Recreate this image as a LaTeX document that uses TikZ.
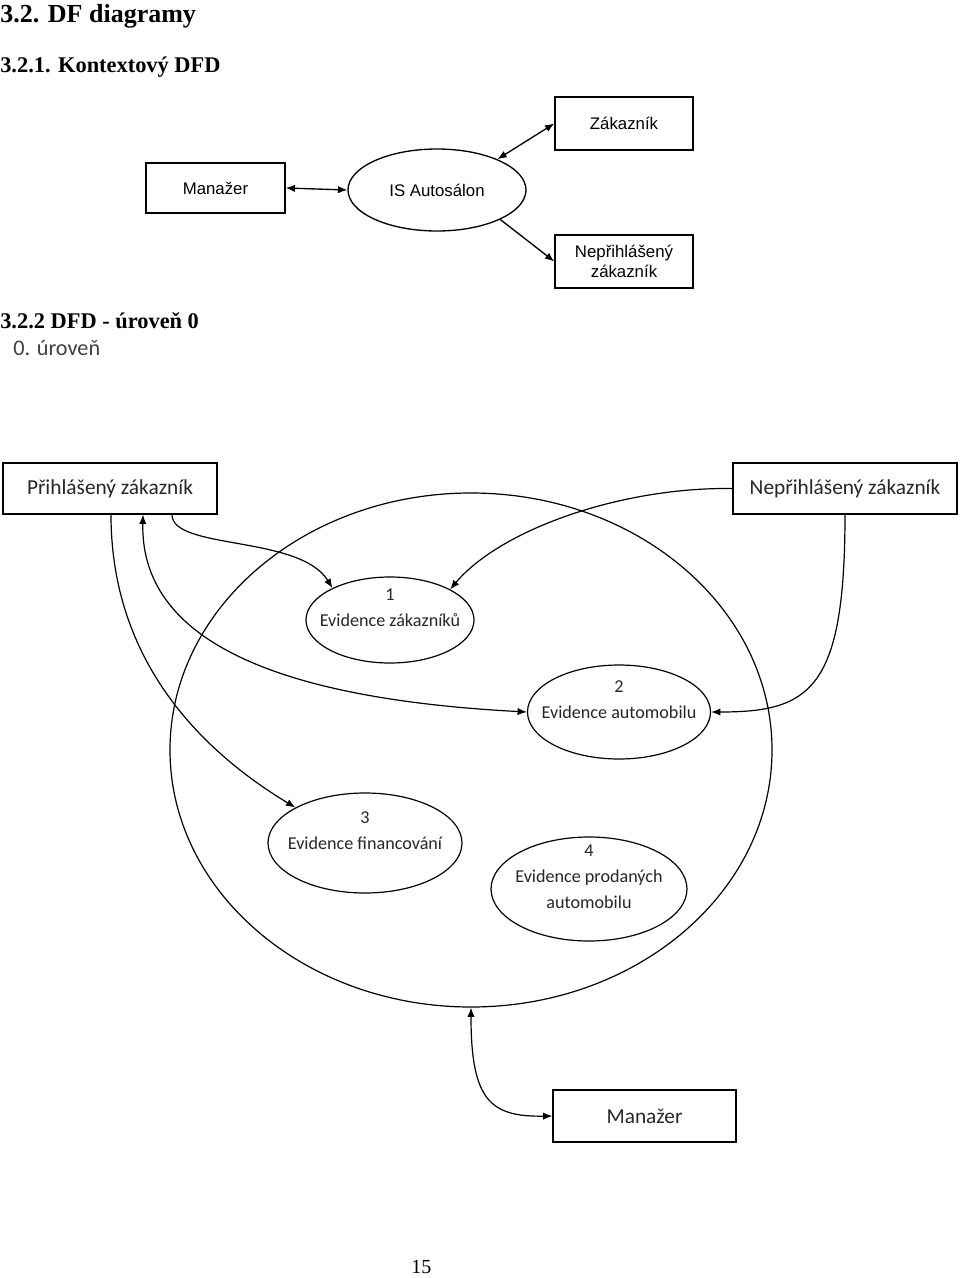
\documentclass[tikz,border=0pt]{standalone}
\usepackage{fontspec}
\setmainfont{Liberation Serif}
\newfontfamily\carlito{Carlito}
\newfontfamily\arialfont{Liberation Sans}
\usetikzlibrary{arrows.meta,shapes.geometric,calc}

\begin{document}
\begin{tikzpicture}[x=0.75pt,y=-0.75pt,
		>={Latex[length=7pt,width=5.5pt]},
		flow/.style={line width=0.9pt},
		head/.style={anchor=base west,inner sep=0pt,font=\bfseries\fontsize{16.8pt}{19pt}\selectfont},
		cbox/.style={draw,line width=1pt,inner sep=0pt,align=center,font=\arialfont\fontsize{12.6pt}{15pt}\selectfont},
		box/.style={draw,line width=0.9pt,inner sep=0pt,text=black!85,font=\carlito\fontsize{16pt}{19pt}\selectfont},
		proc/.style={draw,ellipse,line width=0.9pt,inner sep=0pt},
		ptext/.style={font=\carlito\fontsize{13.6pt}{19.5pt}\selectfont,align=center,text=black!85,yshift=9pt}]
	\useasboundingbox (0,0) rectangle (960,1278);
	% headings
	\node[head,font=\bfseries\fontsize{19.5pt}{22pt}\selectfont] (h1) at (0,22) {3.2. DF diagramy};
	\node[head] (h2) at (0,72) {3.2.1. Kontextový DFD};
	\node[head] (h3) at (0,328) {3.2.2 DFD - úroveň 0};
	\node[anchor=base west,inner sep=0pt,text=black!75,font=\carlito\fontsize{16.7pt}{19pt}\selectfont] (lvl) at (13,355) {0. úroveň};
	\node[anchor=base west,inner sep=0pt,font=\fontsize{15pt}{17pt}\selectfont] (pg) at (411,1273) {15};

	% kontextovy diagram
	\node[cbox,minimum width=104.25pt,minimum height=37.5pt] (cman) at (215.5,188) {Manažer};
	\node[cbox,ellipse,minimum width=133.5pt,minimum height=61.5pt] (isa) at (437,190) {IS Autosálon};
	\node[cbox,minimum width=103.5pt,minimum height=39.75pt] (czak) at (624,123.5) {Zákazník};
	\node[cbox,minimum width=103.5pt,minimum height=39.75pt] (cnep) at (624,261.5) {Nepřihlášený\\zákazník};
	\draw[flow,line width=1pt,<->] (cman.east) -- (isa.west);
	\draw[flow,line width=1pt,<->] (isa.27) -- (czak.west);
	\draw[flow,line width=1pt,->] (isa.335) -- (cnep.west);

	% uroven 0
	\node[box,minimum width=160.5pt,minimum height=38.25pt] (prihl) at (110,488.5) {Přihlášený zákazník};
	\node[box,minimum width=168pt,minimum height=38.25pt] (nep) at (845,488.5) {Nepřihlášený zákazník};
	\node[proc,minimum width=451.5pt,minimum height=385.5pt] (big) at (471,750) {};
	\node[proc,minimum width=126pt,minimum height=64.5pt,label={[ptext]center:{1\\Evidence zákazníků}}] (e1) at (390,620) {};
	\node[proc,minimum width=137.25pt,minimum height=70.5pt,label={[ptext]center:{2\\Evidence automobilu}}] (e2) at (619,712) {};
	\node[proc,minimum width=145.5pt,minimum height=75pt,label={[ptext]center:{3\\Evidence financování}}] (e3) at (365,843) {};
	\node[proc,minimum width=147pt,minimum height=78pt,label={[ptext]center:{4\\Evidence prodaných\\automobilu}}] (e4) at (589,889) {};
	\node[box,minimum width=137.25pt,minimum height=39pt] (man) at (644.5,1116) {Manažer};

	\draw[flow,->] ($(prihl.south)+(62,0)$) .. controls (172,550) and (300,535) .. (e1.151);
	\draw[flow,->] (nep.west) .. controls (620,487) and (500,530) .. (e1.27);
	\draw[flow,->] (nep.south) .. controls (845,690) and (810,712) .. (e2.east);
	\draw[flow,<->] ($(prihl.south)+(33,0)$) .. controls (140,650) and (300,700) .. (e2.west);
	\draw[flow,->] ($(prihl.south)+(1,0)$) .. controls (111,660) and (200,750) .. (e3.153);
	\draw[flow,<->] (big.south) .. controls (471,1100) and (490,1117) .. (man.west);
\end{tikzpicture}
\end{document}
